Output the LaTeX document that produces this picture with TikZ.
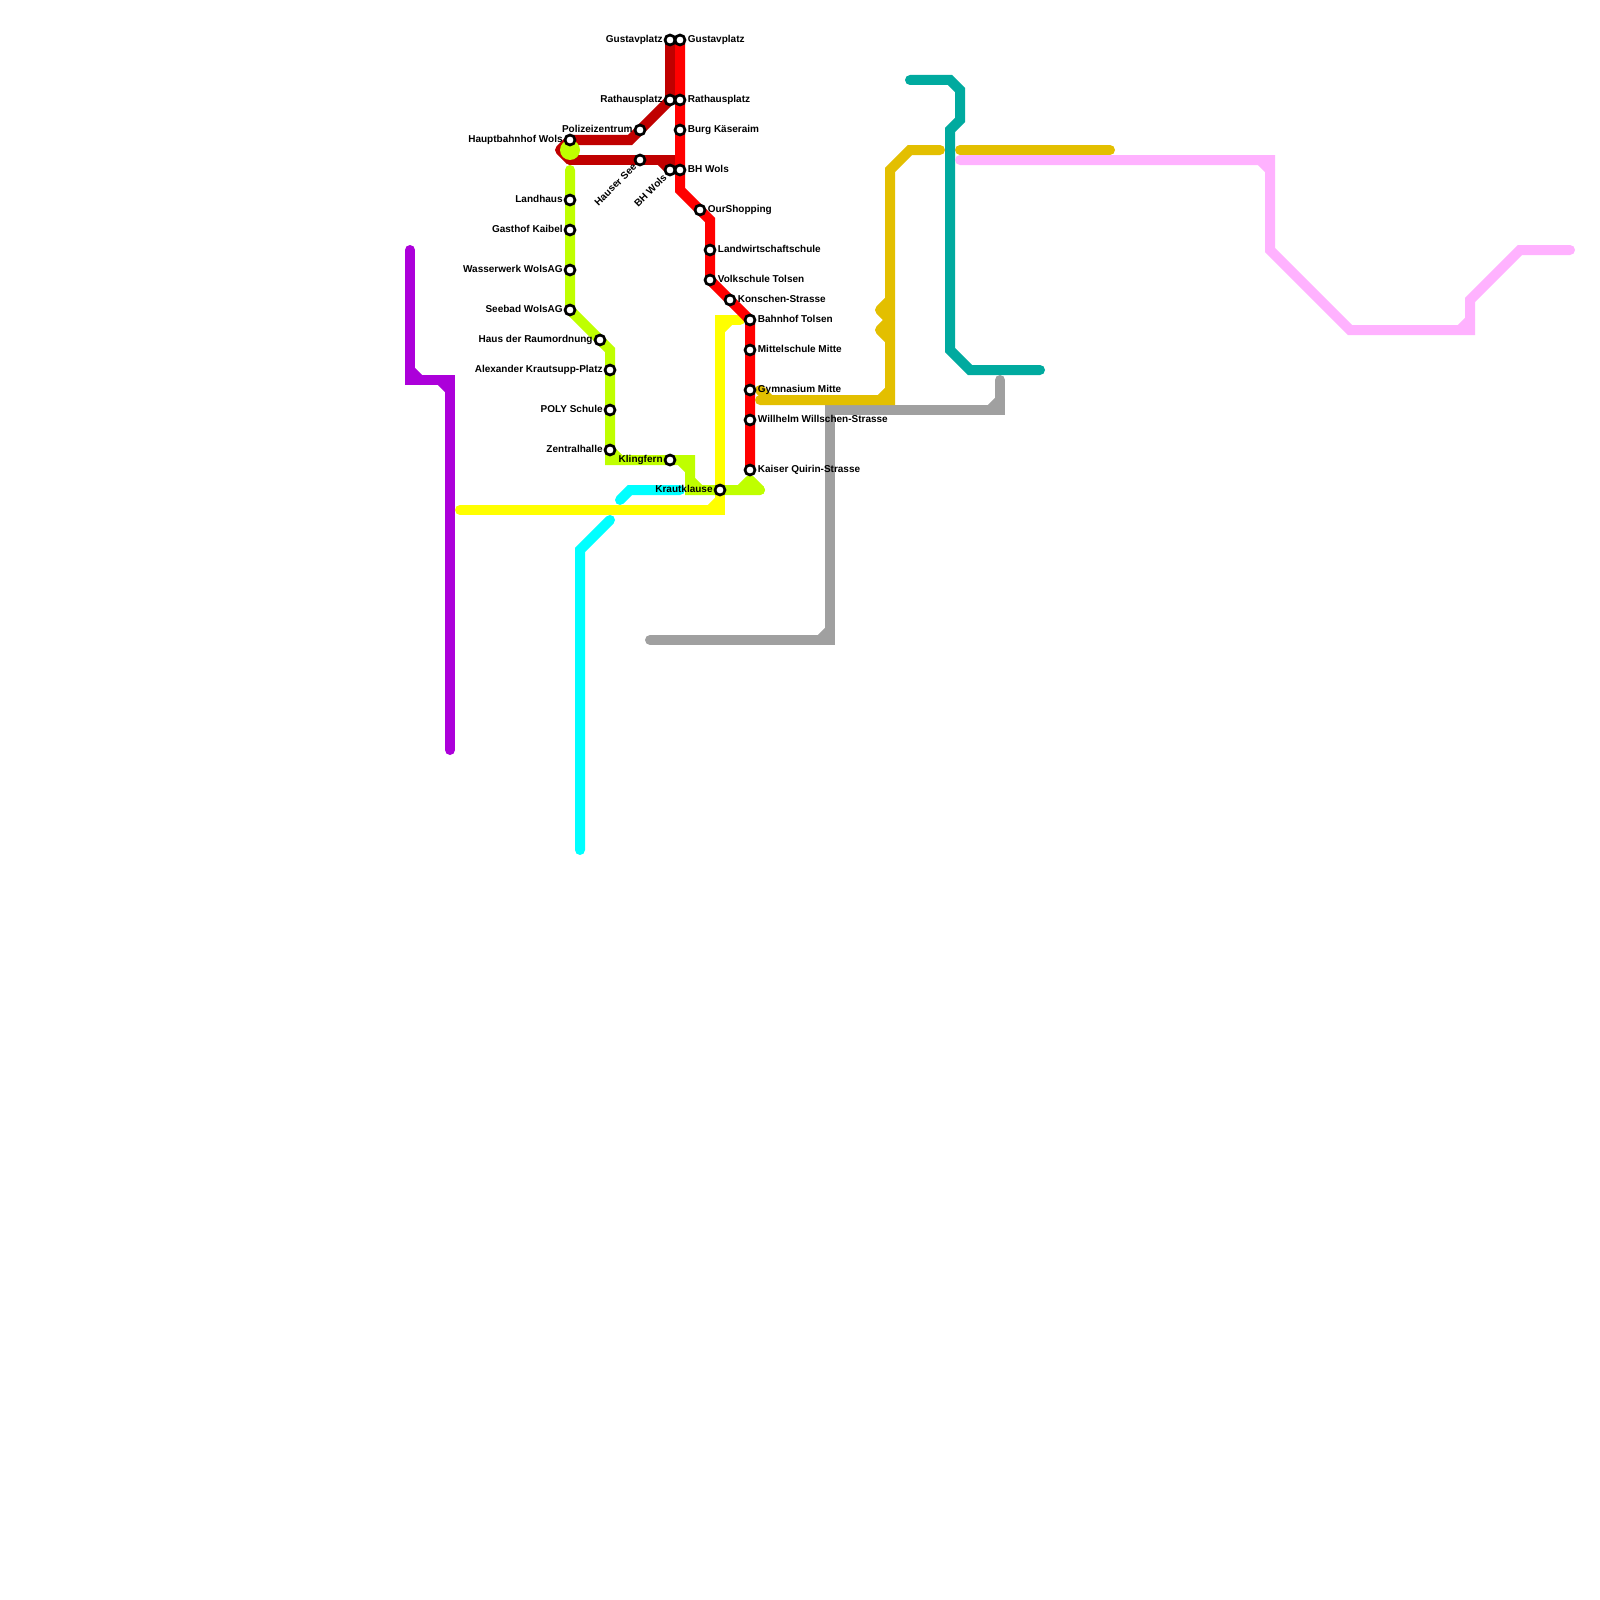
\documentclass[tikz,border=0pt]{standalone}
\usepackage{fontspec}
\setmainfont{Liberation Sans}
\usetikzlibrary{backgrounds}
\definecolor{linered}{HTML}{FF0000}
\definecolor{linedarkred}{HTML}{C00000}
\definecolor{linelime}{HTML}{BFFF00}
\definecolor{lineyellow}{HTML}{FFFF00}
\definecolor{linecyan}{HTML}{00FFFF}
\definecolor{linepurple}{HTML}{AC00DA}
\definecolor{linegold}{HTML}{E3BF00}
\definecolor{lineteal}{HTML}{00AA9F}
\definecolor{linegray}{HTML}{A0A0A0}
\definecolor{linepink}{HTML}{FFB2FF}
\tikzset{
  metro/.style={line width=5pt,line cap=round,line join=miter,miter limit=3},
  metrotip/.style={metro,line join=round},
  station/.style={circle,draw=black,fill=white,line width=1.35pt,minimum size=5pt,inner sep=0pt,outer sep=0pt},
  namebox/.style={inner sep=0pt,font=\fontsize{5}{6}\selectfont\bfseries,text=black},
  nameright/.style={namebox,anchor=base west},
  nameleft/.style={namebox,anchor=base east},
  nameslant/.style={namebox,anchor=east,rotate=45}
}
\begin{document}
\begin{tikzpicture}[x=0.5pt,y=-0.5pt]
\useasboundingbox (0,0) rectangle (1600,1600);

% stations
\node[station] (gustavL) at (670,40) {};
\node[station] (gustavR) at (680,40) {};
\node[station] (rathausL) at (670,100) {};
\node[station] (rathausR) at (680,100) {};
\node[station] (burg) at (680,130) {};
\node[station] (polizei) at (640,130) {};
\node[station] (hbf) at (570,140) {};
\node[station] (hauser) at (640,160) {};
\node[station] (bhL) at (670,170) {};
\node[station] (bhR) at (680,170) {};
\node[station] (landhaus) at (570,200) {};
\node[station] (gasthof) at (570,230) {};
\node[station] (wasserwerk) at (570,270) {};
\node[station] (seebad) at (570,310) {};
\node[station] (raumordnung) at (600,340) {};
\node[station] (alexander) at (610,370) {};
\node[station] (poly) at (610,410) {};
\node[station] (zentral) at (610,450) {};
\node[station] (klingfern) at (670,460) {};
\node[station] (kraut) at (720,490) {};
\node[station] (ourshop) at (700,210) {};
\node[station] (landwirt) at (710,250) {};
\node[station] (volk) at (710,280) {};
\node[station] (konschen) at (730,300) {};
\node[station] (tolsen) at (750,320) {};
\node[station] (mittel) at (750,350) {};
\node[station] (gymn) at (750,390) {};
\node[station] (willhelm) at (750,420) {};
\node[station] (kaiser) at (750,470) {};

% names
\node[nameleft] (tGustavL) at (663,42.5) {Gustavplatz};
\node[nameright] (tGustavR) at (687.5,42.5) {Gustavplatz};
\node[nameleft] (tRathausL) at (663,102.5) {Rathausplatz};
\node[nameright] (tRathausR) at (687.5,102.5) {Rathausplatz};
\node[nameright] (tBurg) at (687.5,132.5) {Burg Käseraim};
\node[nameleft] (tPolizei) at (633,132.5) {Polizeizentrum};
\node[nameleft] (tHbf) at (563,142.5) {Hauptbahnhof Wols};
\node[nameright] (tBhR) at (687.5,172.5) {BH Wols};
\node[nameslant] (tHauser) at (635,165) {Hauser See};
\node[nameslant] (tBhL) at (665,175.5) {BH Wols};
\node[nameleft] (tLandhaus) at (563,202.5) {Landhaus};
\node[nameleft] (tGasthof) at (563,232.5) {Gasthof Kaibel};
\node[nameleft] (tWasserwerk) at (563,272.5) {Wasserwerk WolsAG};
\node[nameleft] (tSeebad) at (563,312.5) {Seebad WolsAG};
\node[nameleft] (tRaumordnung) at (593,342.5) {Haus der Raumordnung};
\node[nameleft] (tAlexander) at (603,372.5) {Alexander Krautsupp-Platz};
\node[nameleft] (tPoly) at (603,412.5) {POLY Schule};
\node[nameleft] (tZentral) at (603,452.5) {Zentralhalle};
\node[nameleft] (tKlingfern) at (663,462.5) {Klingfern};
\node[nameleft] (tKraut) at (713,492.5) {Krautklause};
\node[nameright] (tOurshop) at (707.5,212.5) {OurShopping};
\node[nameright] (tLandwirt) at (717.5,252.5) {Landwirtschaftschule};
\node[nameright] (tVolk) at (717.5,282.5) {Volkschule Tolsen};
\node[nameright] (tKonschen) at (737.5,302.5) {Konschen-Strasse};
\node[nameright] (tTolsen) at (757.5,322.5) {Bahnhof Tolsen};
\node[nameright] (tMittel) at (757.5,352.5) {Mittelschule Mitte};
\node[nameright] (tGymn) at (757.5,392.5) {Gymnasium Mitte};
\node[nameright] (tWillhelm) at (757.5,422.5) {Willhelm Willschen-Strasse};
\node[nameright] (tKaiser) at (757.5,472.5) {Kaiser Quirin-Strasse};

\begin{pgfonlayer}{background}
% purple
\draw[metro,linepurple] (410,250) -- (410,380) -- (450,380) -- (450,750);
\draw[metro,linepurple] (410,370) -- (420,380);
\draw[metro,linepurple] (440,380) -- (450,390);

% cyan
\draw[metro,linecyan] (580,850) -- (580,550) -- (610,520);
\draw[metro,linecyan] (620,500) -- (630,490) -- (680,490);

% yellow
\draw[metro,lineyellow] (460,510) -- (720,510) -- (720,320) -- (740,320);
\draw[metro,lineyellow] (710,510) -- (720,500);
\draw[metro,lineyellow] (720,330) -- (730,320);

% dark red
\draw[metro,linedarkred] (gustavL.center) -- (rathausL.center) -- (630,140) -- (hbf.center);
\draw[metrotip,linedarkred] (hbf.center) -- (560,150) -- (570,160);
\draw[metro,linedarkred] (570,160) -- (670,160) -- (bhL.center);
\draw[metro,linedarkred] (660,160) -- (bhL.center);

% red
\draw[metro,linered] (gustavR.center) -- (680,190) -- (710,220) -- (volk.center) -- (tolsen.center) -- (kaiser.center);

% lime
\fill[linelime] (570,150) circle (10);
\draw[metro,linelime] (570,170) -- (seebad.center) -- (610,350) -- (610,460) -- (690,460) -- (690,490) -- (760,490);
\draw[metrotip,linelime] (760,490) -- (750,480) -- (740,490);
\draw[metro,linelime] (610,450) -- (620,460);
\draw[metro,linelime] (680,460) -- (690,470);
\draw[metro,linelime] (690,480) -- (700,490);

% gray
\draw[metro,linegray] (1000,380) -- (1000,410) -- (830,410) -- (830,640) -- (650,640);
\draw[metro,linegray] (990,410) -- (1000,400);
\draw[metro,linegray] (820,640) -- (830,630);

% gold
\draw[metro,linegold] (760,400) -- (890,400) -- (890,170) -- (910,150) -- (940,150);
\draw[metro,linegold] (960,150) -- (1110,150);
\draw[metro,linegold] (760,390) -- (770,400);
\draw[metro,linegold] (880,400) -- (890,390);
\draw[metrotip,linegold] (890,300) -- (880,310) -- (890,320);
\draw[metrotip,linegold] (890,320) -- (880,330) -- (890,340);

% teal
\draw[metro,lineteal] (910,80) -- (950,80) -- (960,90) -- (960,120) -- (950,130) -- (950,350) -- (970,370) -- (1040,370);

% pink
\draw[metro,linepink] (960,160) -- (1270,160) -- (1270,250) -- (1350,330) -- (1470,330) -- (1470,300) -- (1520,250) -- (1570,250);
\draw[metro,linepink] (1260,160) -- (1270,170);
\draw[metro,linepink] (1460,330) -- (1470,320);
\end{pgfonlayer}
\end{tikzpicture}
\end{document}
